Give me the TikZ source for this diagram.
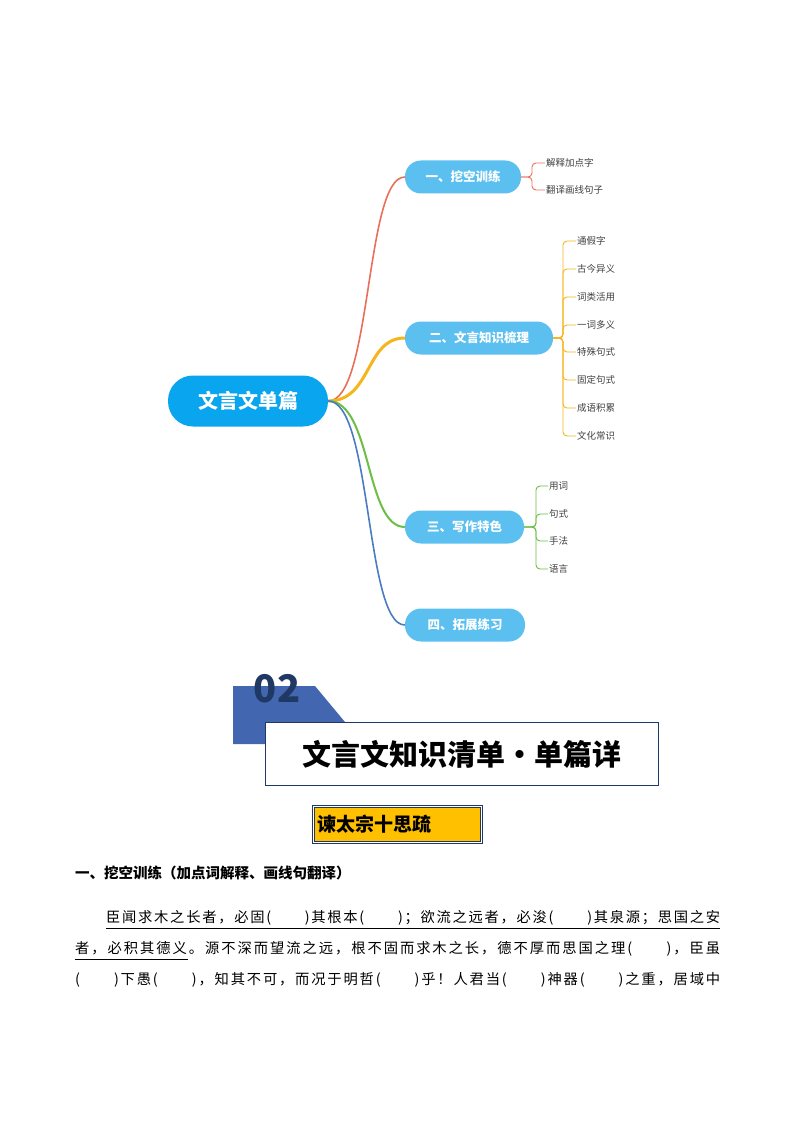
\documentclass[tikz,border=0pt]{standalone}
\usepackage{fontspec}
\setmainfont{Noto Sans CJK SC}
\definecolor{rootc}{HTML}{0AA5EF}
\definecolor{brc}{HTML}{5BC0F0}
\definecolor{cr}{HTML}{E8705A}
\definecolor{co}{HTML}{F5B51C}
\definecolor{cg}{HTML}{6CBE45}
\definecolor{cb}{HTML}{4A7CC0}
\definecolor{navy}{HTML}{1F3864}
\definecolor{hblue}{HTML}{4266B0}
\definecolor{gold}{HTML}{FFC000}
\def\spr#1{#1\sprx}
\def\sprx#1{\ifx#1\relax\else\hfil#1\expandafter\sprx\fi}
\tikzset{
 rootnode/.style={fill=rootc,rounded corners=25pt,minimum width=160pt,minimum height=51pt,text=white,font=\fontsize{20}{22}\selectfont\bfseries},
 brnode/.style={fill=brc,rounded corners=16pt,minimum height=33pt,text=white,font=\fontsize{12.5}{14}\selectfont\bfseries},
 leaf/.style={anchor=west,inner sep=1pt,text=black!75,font=\fontsize{9.5}{11}\selectfont},
 bline/.style={line width=0.9pt,rounded corners=4pt},
 para/.style={anchor=west,inner sep=0pt,font=\fontsize{14.3}{16}\selectfont}
}
\begin{document}
\begin{tikzpicture}[x=1pt,y=-1pt]
\useasboundingbox (0,0) rectangle (794,1123);
% mind map
\node[rootnode] (root) at (248,401) {文言文单篇};
\node[brnode,minimum width=116pt] (b1) at (463,177) {一、挖空训练};
\node[brnode,minimum width=148pt] (b2) at (479,338) {二、文言知识梳理};
\node[brnode,minimum width=119pt] (b3) at (464.5,527) {三、写作特色};
\node[brnode,minimum width=120pt] (b4) at (465,625) {四、拓展练习};
\draw[cr,line width=1.6pt] (root.east) .. controls (372,401) and (365,177) .. (b1.west);
\draw[co,line width=3pt] (root.east) .. controls (372,401) and (365,338) .. (b2.west);
\draw[cg,line width=2pt] (root.east) .. controls (372,401) and (365,527) .. (b3.west);
\draw[cb,line width=1.6pt] (root.east) .. controls (372,401) and (365,625) .. (b4.west);
% leaves
\foreach \t/\y [count=\i] in {解释加点字/163,翻译画线句子/190}{
 \node[leaf] (l1\i) at (545,\y) {\t};
 \draw[cr,bline] (b1.east) -- (532,177) |- (l1\i.west);}
\foreach \t/\y [count=\i] in {通假字/241,古今异义/269,词类活用/297,一词多义/325,特殊句式/352,固定句式/380,成语积累/408,文化常识/436}{
 \node[leaf] (l2\i) at (576,\y) {\t};
 \draw[co,bline] (b2.east) -- (563,338) |- (l2\i.west);}
\foreach \t/\y [count=\i] in {用词/486,句式/514,手法/541,语言/569}{
 \node[leaf] (l3\i) at (548,\y) {\t};
 \draw[cg,bline] (b3.east) -- (536,527) |- (l3\i.west);}
% 02 header
\fill[hblue] (233,686) -- (315,686) -- (345,722) -- (265,722) -- (265,744) -- (233,744) -- cycle;
\node[font=\fontsize{38}{38}\selectfont\bfseries,text=navy,anchor=center] (num) at (277,689) {02};
\node[draw=navy,line width=0.8pt,fill=white,minimum width=393pt,minimum height=63pt,anchor=north west,font=\fontsize{29}{30}\selectfont\bfseries,inner sep=0pt] (title) at (265,722) {文言文知识清单·单篇详};
% yellow title
\node[draw=navy,double=white,double distance=1pt,line width=0.7pt,fill=gold,minimum width=168pt,minimum height=36pt,anchor=north west,inner sep=3pt,font=\fontsize{19}{20}\selectfont\bfseries,align=left,text width=160pt] (sub) at (313,806) {谏太宗十思疏};
% section heading
\node[anchor=west,inner sep=0pt,font=\fontsize{14.5}{16}\selectfont\bfseries] (sec) at (75,873) {一、挖空训练（加点词解释、画线句翻译）};
% paragraph
\node[para] (p1) at (106,918) {\makebox[614pt][s]{\spr 臣闻求木之长者，必固(　　)其根本(　　)；欲流之远者，必浚(　　)其泉源；思国之安\relax}};
\node[para] (p2) at (75,949) {\makebox[645pt][s]{\spr 者，必积其德义。源不深而望流之远，根不固而求木之长，德不厚而思国之理(　　)，臣虽\relax}};
\node[para] (p3) at (75,980) {\makebox[645pt][s]{\spr (　　)下愚(　　)，知其不可，而况于明哲(　　)乎！人君当(　　)神器(　　)之重，居域中\relax}};
\draw[line width=0.6pt] (106,928) -- (720,928);
\draw[line width=0.6pt] (75,959) -- (188,959);
\end{tikzpicture}
\end{document}
